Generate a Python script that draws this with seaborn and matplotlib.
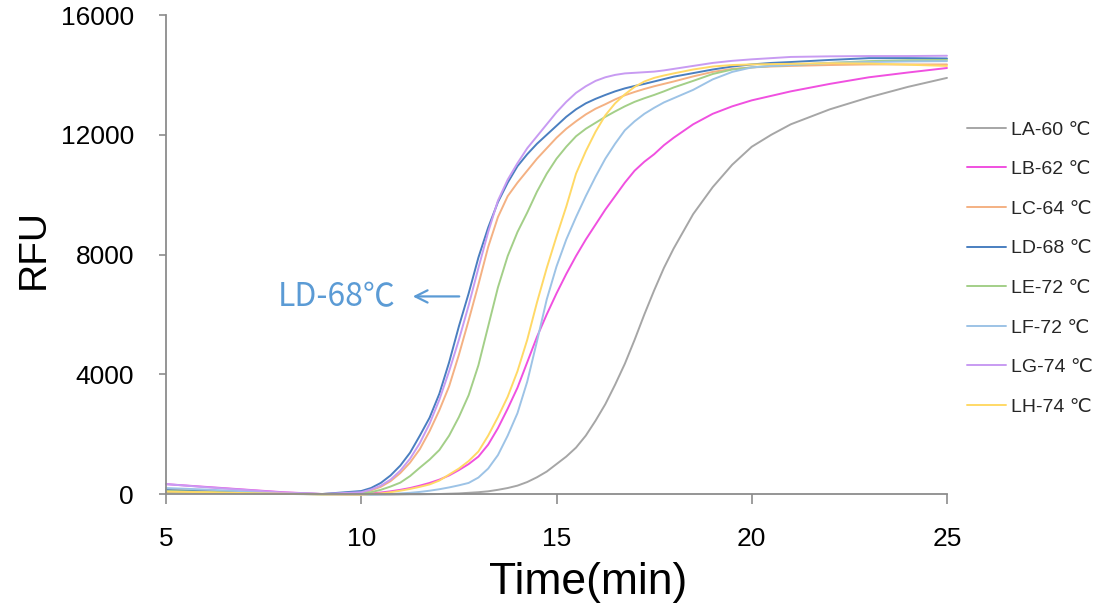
import numpy as np
import pandas as pd
import seaborn as sns
import matplotlib.pyplot as plt

# ---------------- data ----------------
time_min = [5, 6, 7, 8, 9, 10,
            10.25, 10.5, 10.75, 11, 11.25, 11.5, 11.75, 12,
            12.25, 12.5, 12.75, 13, 13.25, 13.5, 13.75, 14,
            14.25, 14.5, 14.75, 15, 15.25, 15.5, 15.75, 16,
            16.25, 16.5, 16.75, 17, 17.25, 17.5, 17.75, 18,
            18.5, 19, 19.5, 20, 20.5, 21,
            22, 23, 24, 25]

LA_60 = [60, 40, 20, 5, -15, -20,
         -20, -20, -20, -15, -10, -10, -5, 0,
         10, 20, 40, 60, 90, 140, 200, 280,
         400, 560, 750, 1000, 1250, 1550, 1950, 2450,
         3000, 3650, 4350, 5150, 6000, 6800, 7550, 8200,
         9350, 10250, 11000, 11600, 12000, 12350,
         12850, 13250, 13600, 13900]

LB_62 = [330, 240, 150, 60, 0, -10,
         20, 50, 90, 140, 200, 280, 370, 480,
         620, 800, 1000, 1250, 1650, 2200, 2850, 3550,
         4400, 5250, 6000, 6700, 7350, 7950, 8500, 9000,
         9500, 9950, 10400, 10800, 11100, 11350, 11650, 11900,
         12350, 12700, 12950, 13150, 13300, 13450,
         13700, 13920, 14080, 14230]

LC_64 = [150, 110, 60, 20, 0, 50,
         120, 240, 430, 700, 1050, 1500, 2100, 2800,
         3600, 4650, 5800, 7000, 8250, 9250, 9950, 10400,
         10800, 11200, 11550, 11900, 12200, 12450, 12680, 12870,
         13020, 13180, 13320, 13430, 13530, 13620, 13700, 13780,
         13950, 14100, 14200, 14250, 14280, 14300,
         14330, 14350, 14350, 14350]

LD_68 = [130, 90, 50, 15, 0, 100,
         200, 370, 620, 950, 1380, 1950, 2550, 3350,
         4400, 5600, 6700, 7900, 8900, 9750, 10400, 10950,
         11350, 11700, 12000, 12300, 12600, 12850, 13050, 13200,
         13330, 13450, 13550, 13630, 13700, 13780, 13860, 13940,
         14060, 14180, 14280, 14350, 14400, 14430,
         14500, 14560, 14560, 14550]

LE_72 = [100, 70, 40, 10, -10, 20,
         60, 140, 250, 380, 600, 880, 1150, 1470,
         1950, 2570, 3300, 4300, 5600, 6900, 7950, 8750,
         9400, 10100, 10700, 11200, 11600, 11950, 12200, 12400,
         12600, 12780, 12950, 13100, 13220, 13330, 13450, 13580,
         13800, 14030, 14180, 14250, 14300, 14330,
         14400, 14460, 14490, 14500]

LF_72 = [200, 150, 90, 30, 0, -20,
         -20, -10, 0, 20, 40, 70, 110, 160,
         220, 290, 370, 550, 850, 1300, 1950, 2700,
         3750, 5100, 6500, 7600, 8500, 9250, 9950, 10600,
         11200, 11700, 12150, 12450, 12700, 12900, 13080, 13220,
         13500, 13850, 14100, 14250, 14300, 14330,
         14400, 14430, 14450, 14460]

LG_74 = [330, 230, 140, 50, 0, 60,
         150, 280, 480, 780, 1180, 1700, 2350, 3150,
         4100, 5150, 6300, 7550, 8750, 9800, 10500, 11050,
         11550, 11950, 12350, 12750, 13100, 13400, 13620, 13800,
         13920, 14000, 14050, 14070, 14090, 14110, 14150, 14200,
         14300, 14400, 14470, 14520, 14560, 14600,
         14620, 14630, 14630, 14640]

LH_74 = [80, 60, 30, 10, -10, -20,
         0, 20, 60, 110, 170, 240, 320, 450,
         650, 850, 1100, 1420, 1950, 2570, 3250, 4100,
         5150, 6400, 7550, 8600, 9600, 10700, 11450, 12100,
         12650, 13050, 13350, 13600, 13780, 13900, 13980, 14050,
         14180, 14280, 14330, 14350, 14360, 14370,
         14390, 14380, 14340, 14300]

sample_labels = ["LA-60 \u2103", "LB-62 \u2103", "LC-64 \u2103", "LD-68 \u2103",
                 "LE-72 \u2103", "LF-72 \u2103", "LG-74 \u2103", "LH-74 \u2103"]
series = [LA_60, LB_62, LC_64, LD_68, LE_72, LF_72, LG_74, LH_74]
colors = ["#A6A6A6", "#F050E0", "#F4B183", "#4A7FC0",
          "#A3CF88", "#9DC3E6", "#C89BF2", "#FFD966"]

x_ticks = [5, 10, 15, 20, 25]
y_ticks = [0, 4000, 8000, 12000, 16000]

# ---------------- build long table ----------------
frames = []
for lab, vals in zip(sample_labels, series):
    frames.append(pd.DataFrame({"Time": time_min, "RFU": vals, "Sample": lab}))
df = pd.concat(frames, ignore_index=True)
palette = dict(zip(sample_labels, colors))

# ---------------- plot ----------------
sns.set_theme(style="white")
plt.rcParams["font.family"] = ["Liberation Sans", "DejaVu Sans"]

fig = plt.figure(figsize=(11.01, 6.06), dpi=100)
ax = fig.add_axes([0.1508, 0.1848, 0.7093, 0.7904])

sns.lineplot(data=df, x="Time", y="RFU", hue="Sample", hue_order=sample_labels,
             palette=palette, estimator=None, linewidth=1.4, ax=ax, legend=True)
for ln in ax.lines:
    ln.set_clip_on(False)

ax.set_xlim(5, 25)
ax.set_ylim(0, 16000)
ax.set_xticks(x_ticks)
ax.set_yticks(y_ticks)
ax.set_xticklabels([str(v) for v in x_ticks])
ax.set_yticklabels([str(v) for v in y_ticks])

for s in ["top", "right"]:
    ax.spines[s].set_visible(False)
for s in ["left", "bottom"]:
    ax.spines[s].set_color("#8C8C8C")
    ax.spines[s].set_linewidth(1.3)

ax.tick_params(axis="x", direction="out", length=7, width=1.2, color="#8C8C8C",
               pad=17, labelsize=19, labelcolor="black", bottom=True)
ax.tick_params(axis="y", direction="out", length=5, width=1.2, color="#8C8C8C",
               pad=18, labelsize=19, labelcolor="black", left=True)

ax.set_xlabel("Time(min)", fontsize=32, color="black")
ax.set_ylabel("RFU", fontsize=28, color="black")
ax.xaxis.set_label_coords(0.54, -0.142)
ax.yaxis.set_label_coords(-0.146, 0.512)

# annotation
ax.text(9.38, 6580, "LD-68\u2103", fontsize=23, color="#5B9BD5",
        ha="center", va="center", family=["Noto Sans CJK SC", "DejaVu Sans"])
ax.annotate("", xy=(11.25, 6600), xytext=(12.58, 6600),
            arrowprops=dict(arrowstyle="->", color="#5B9BD5", lw=1.6,
                            mutation_scale=22))

# legend
h, l = ax.get_legend_handles_labels()
ax.legend(h, l, loc="center left", bbox_to_anchor=(0.878, 0.557),
          bbox_transform=fig.transFigure, frameon=False, fontsize=14,
          handlelength=2.0, handletextpad=0.3, labelspacing=1.13,
          borderpad=0, borderaxespad=0)

fig.savefig("out.png", dpi=100)
